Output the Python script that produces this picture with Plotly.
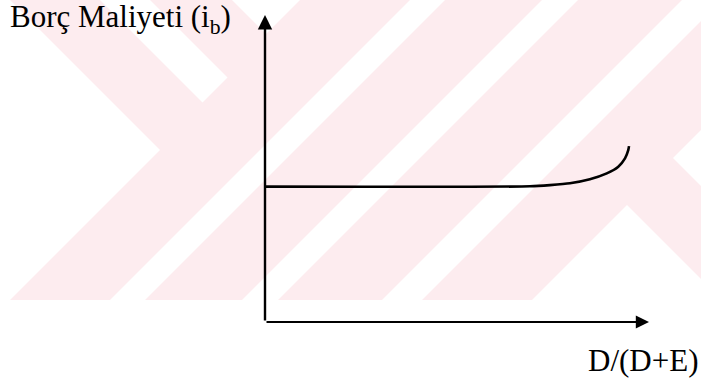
import plotly.graph_objects as go

# ---- data ----
x_vals = [0.0, 0.690, 0.742, 0.794, 0.846, 0.890, 0.920, 0.9375, 0.946, 0.948]
y_vals = [0.441, 0.442, 0.446, 0.452, 0.465, 0.484, 0.506, 0.533, 0.560, 0.573]
y_label = "Borç Maliyeti (i<sub>b</sub>)"
x_label = "D/(D+E)"

W, H = 701, 380
PINK = "#fdecef"
SERIF = "Liberation Serif, Times New Roman, Times, serif"


def px_path(pts):
    s = ""
    for i, (px, py) in enumerate(pts):
        s += ("M" if i == 0 else "L") + f"{px / W:.5f},{1 - py / H:.5f} "
    return s + "Z"


def stripe(c1, c2):
    return [(c1, 0), (c2, 0), (c2 - 300, 300), (c1 - 300, 300)]


wm_white = [
    [(0, 0), (10, 0), (160, 150), (10, 300), (0, 300)],
    [(100, 0), (150, 0), (227.5, 77.5), (202.5, 102.5)],
    [(232, 0), (300, 0), (266, 34)],
    stripe(410, 445),
    stripe(542, 578),
    stripe(682, 722),
    [(532, 300), (627, 205), (722, 300)],
    [(673, 158), (701, 130), (701, 186)],
]

shapes = [dict(type="path", xref="paper", yref="paper", layer="below",
               path=px_path([(0, 0), (W, 0), (W, 300), (0, 300)]),
               fillcolor=PINK, line=dict(width=0))]
for poly in wm_white:
    shapes.append(dict(type="path", xref="paper", yref="paper", layer="below",
                       path=px_path(poly), fillcolor="white", line=dict(width=0)))

fig = go.Figure()
fig.add_trace(go.Scatter(x=x_vals, y=y_vals, mode="lines",
                         line=dict(color="black", width=2.6, shape="spline", smoothing=0.6),
                         hoverinfo="skip", showlegend=False))

fig.update_layout(
    width=W, height=H,
    margin=dict(l=0, r=0, t=0, b=0),
    paper_bgcolor="white", plot_bgcolor="rgba(0,0,0,0)",
    shapes=shapes,
    hovermode=False,
    xaxis=dict(domain=[265 / W, 649 / W], range=[0, 1], visible=False),
    yaxis=dict(domain=[1 - 322 / H, 1 - 15 / H], range=[0, 1], visible=False),
    annotations=[
        dict(x=1, y=0, ax=0, ay=0, xref="x", yref="y", axref="x", ayref="y",
             text="", showarrow=True, arrowhead=2, arrowsize=1.2, arrowwidth=2.2,
             arrowcolor="black", standoff=0),
        dict(x=0, y=1, ax=0, ay=0, xref="x", yref="y", axref="x", ayref="y",
             text="", showarrow=True, arrowhead=2, arrowsize=1.2, arrowwidth=2.4,
             arrowcolor="black", standoff=0),
        dict(x=8 / W, y=1 - 19 / H, xref="paper", yref="paper", xanchor="left",
             yanchor="middle", text=y_label, showarrow=False,
             font=dict(family=SERIF, size=31, color="black")),
        dict(x=700 / W, y=1 - 360 / H, xref="paper", yref="paper", xanchor="right",
             yanchor="middle", text=x_label, showarrow=False,
             font=dict(family=SERIF, size=31, color="black")),
    ],
)

fig.write_html("out.html", config={"displayModeBar": False, "staticPlot": True},
               post_script="document.body.style.margin='0';document.body.style.padding='0';")
